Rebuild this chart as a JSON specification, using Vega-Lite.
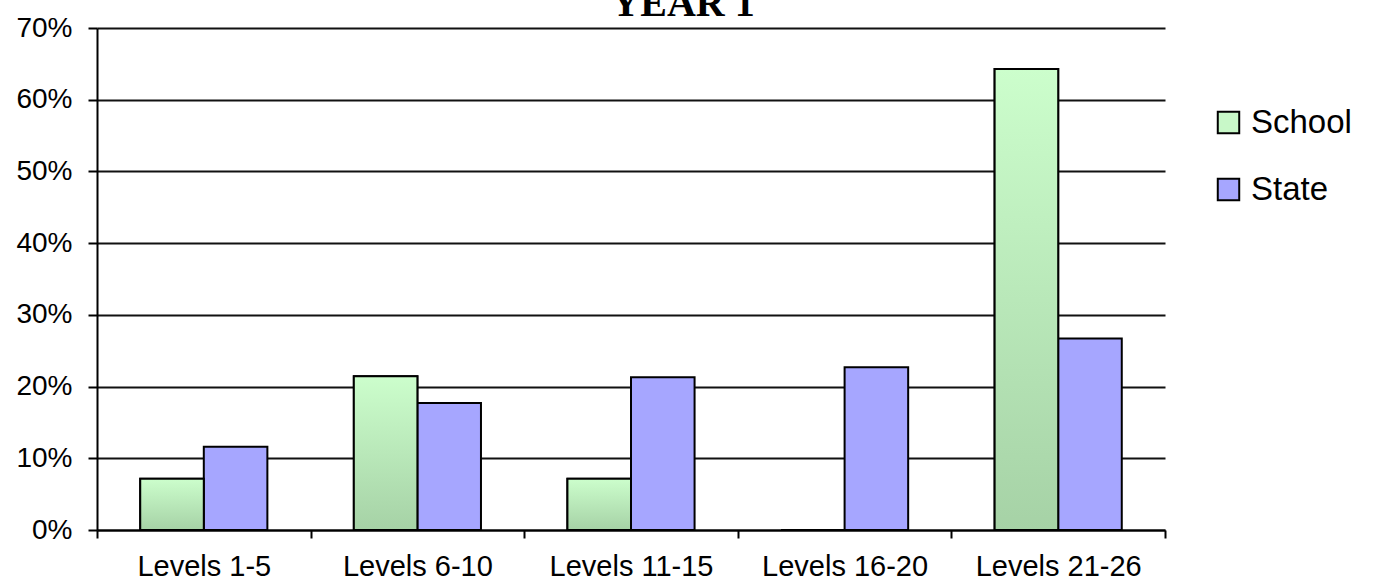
{
  "$schema": "https://vega.github.io/schema/vega-lite/v6.json",
  "autosize": {"type": "none"},
  "padding": {"left": 97, "top": 28, "right": 210, "bottom": 51},
  "width": 1068,
  "height": 502,
  "background": "white",
  "view": {"stroke": null},
  "title": {
    "text": "YEAR 1",
    "font": "Liberation Serif",
    "fontWeight": "bold",
    "fontSize": 40,
    "color": "#000",
    "anchor": "middle",
    "frame": "group",
    "dx": 52,
    "dy": 42,
    "baseline": "alphabetic",
    "offset": 0
  },
  "data": {
    "values": [
      {"level": "Levels 1-5", "group": "School", "pct": 0.0714},
      {"level": "Levels 1-5", "group": "State", "pct": 0.116},
      {"level": "Levels 6-10", "group": "School", "pct": 0.2143},
      {"level": "Levels 6-10", "group": "State", "pct": 0.177},
      {"level": "Levels 11-15", "group": "School", "pct": 0.0714},
      {"level": "Levels 11-15", "group": "State", "pct": 0.213},
      {"level": "Levels 16-20", "group": "School", "pct": 0},
      {"level": "Levels 16-20", "group": "State", "pct": 0.227},
      {"level": "Levels 21-26", "group": "School", "pct": 0.6429},
      {"level": "Levels 21-26", "group": "State", "pct": 0.267}
    ]
  },
  "encoding": {
    "x": {
      "field": "level",
      "type": "nominal",
      "sort": null,
      "scale": {"paddingInner": 0, "paddingOuter": 0},
      "axis": {
        "title": null,
        "labelAngle": 0,
        "tickBand": "extent",
        "labelFont": "Liberation Sans",
        "labelFontSize": 29,
        "labelColor": "#000",
        "labelPadding": 14,
        "tickSize": 8,
        "tickColor": "#000",
        "tickWidth": 2,
        "domainColor": "#000",
        "domainWidth": 2,
        "grid": false
      }
    },
    "xOffset": {
      "field": "group",
      "type": "nominal",
      "scale": {"paddingInner": 0, "paddingOuter": 0.68}
    },
    "y": {
      "field": "pct",
      "type": "quantitative",
      "scale": {"domain": [0, 0.7], "nice": false},
      "axis": {
        "title": null,
        "format": ".0%",
        "values": [0, 0.1, 0.2, 0.3, 0.4, 0.5, 0.6, 0.7],
        "labelFont": "Liberation Sans",
        "labelFontSize": 28,
        "labelColor": "#000",
        "labelPadding": 16,
        "tickSize": 9,
        "tickColor": "#000",
        "tickWidth": 2,
        "domainColor": "#000",
        "domainWidth": 2,
        "grid": true,
        "gridColor": "#111",
        "gridWidth": 2
      }
    }
  },
  "layer": [
    {
      "mark": {"type": "bar", "stroke": "#000", "strokeWidth": 2},
      "encoding": {
        "color": {
          "field": "group",
          "type": "nominal",
          "scale": {"domain": ["School", "State"], "range": ["#c8f8c8", "#a6a6ff"]},
          "legend": {
            "title": null,
            "orient": "none",
            "legendX": 1115,
            "legendY": 78,
            "symbolType": "square",
            "symbolSize": 460,
            "symbolStrokeColor": "#000",
            "symbolStrokeWidth": 2,
            "symbolOpacity": 1,
            "labelFont": "Liberation Sans",
            "labelFontSize": 33,
            "labelColor": "#000",
            "labelOffset": 6,
            "rowPadding": 33
          }
        }
      }
    },
    {
      "transform": [{"filter": "datum.group === 'School'"}],
      "mark": {
        "type": "bar",
        "stroke": "#000",
        "strokeWidth": 2,
        "fill": {
          "gradient": "linear",
          "x1": 0, "y1": 0, "x2": 0, "y2": 1,
          "stops": [
            {"offset": 0, "color": "#ccfecc"},
            {"offset": 1, "color": "#a6d2a6"}
          ]
        }
      }
    }
  ]
}
